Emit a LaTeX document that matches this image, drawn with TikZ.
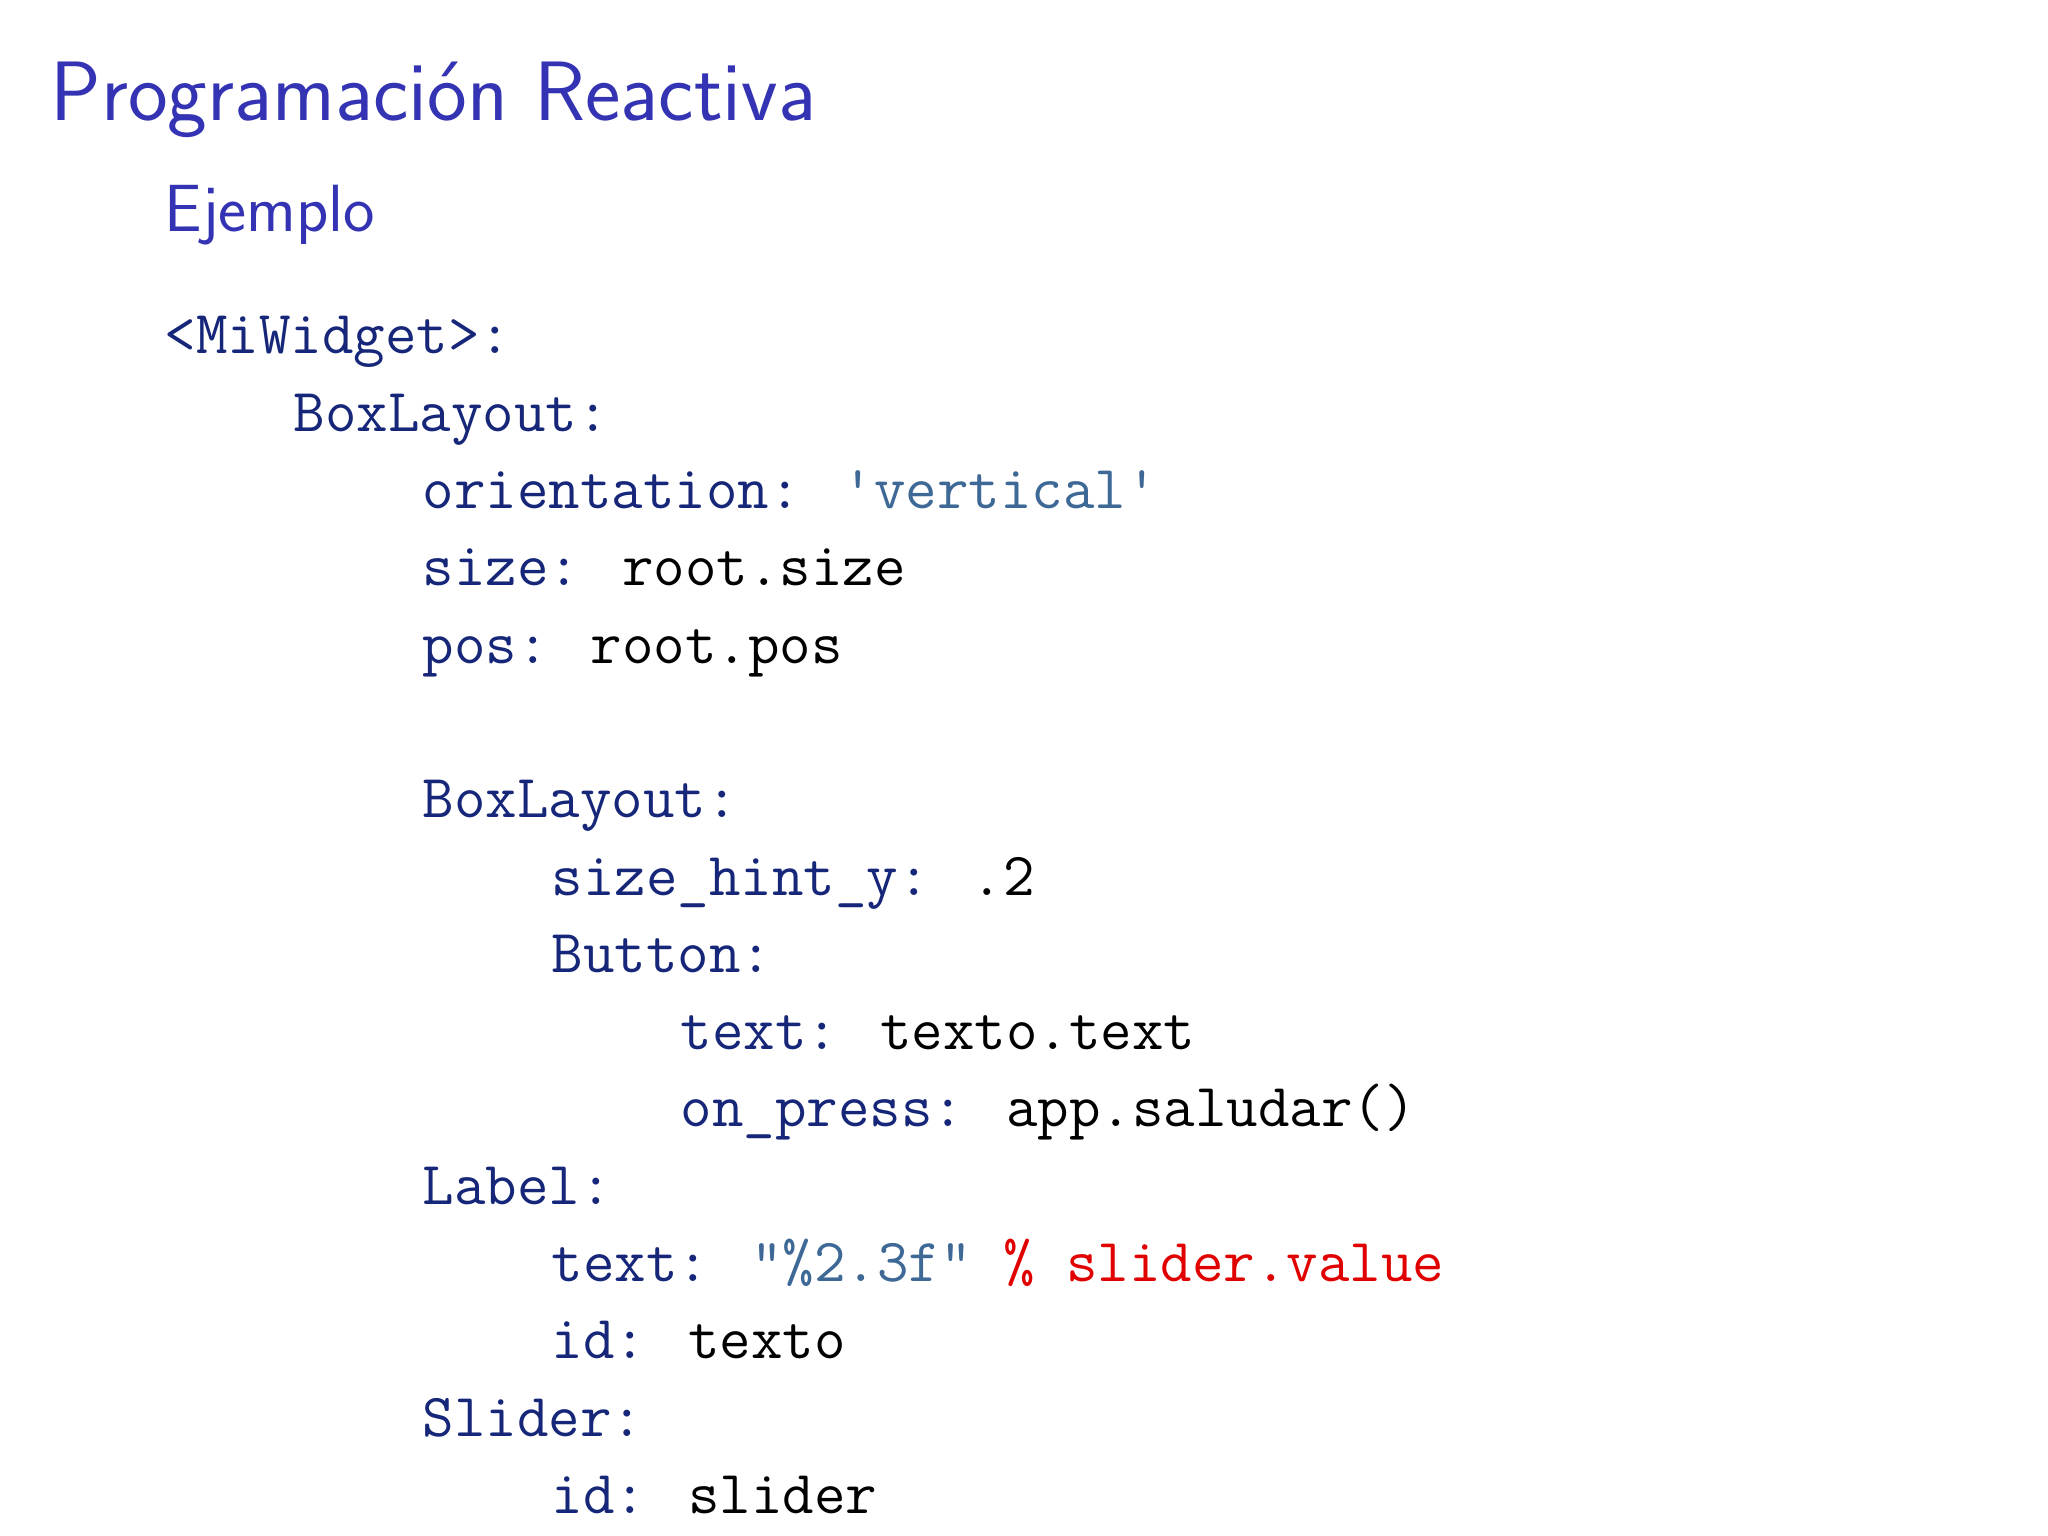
\documentclass[tikz,border=0pt]{standalone}
\usepackage{xcolor}
\definecolor{struct}{RGB}{51,51,179}
\definecolor{keyc}{RGB}{22,38,120}
\definecolor{strc}{RGB}{62,104,150}
\definecolor{redc}{RGB}{225,0,0}
\begin{document}
\begin{tikzpicture}[x=1cm,y=1cm,
  code/.style={anchor=base west,inner sep=0pt,font=\fontsize{17.4}{20}\ttfamily},
  ttl/.style={anchor=base west,inner sep=0pt,text=struct}]
\useasboundingbox[fill=white] (0,0) rectangle (20.48,-15.36);
\node[ttl,font=\fontsize{24}{28}\sffamily] (title) at (0.50,-1.21) {Programación Reactiva};
\node[ttl,font=\fontsize{19}{23}\sffamily] (sub) at (1.64,-2.32) {Ejemplo};
\def\ch{0.3225}
\def\ln#1#2#3{\node[code] (l#1) at ({1.64+#2*\ch},{-3.54-#1*0.773}) {#3};}
\ln{0}{0}{\textcolor{keyc}{<MiWidget>:}}
\ln{1}{4}{\textcolor{keyc}{BoxLayout:}}
\ln{2}{8}{\textcolor{keyc}{orientation:} \textcolor{strc}{'vertical'}}
\ln{3}{8}{\textcolor{keyc}{size:} root.size}
\ln{4}{8}{\textcolor{keyc}{pos:} root.pos}
\ln{6}{8}{\textcolor{keyc}{BoxLayout:}}
\ln{7}{12}{\textcolor{keyc}{size\_hint\_y:} .2}
\ln{8}{12}{\textcolor{keyc}{Button:}}
\ln{9}{16}{\textcolor{keyc}{text:} texto.text}
\ln{10}{16}{\textcolor{keyc}{on\_press:} app.saludar()}
\ln{11}{8}{\textcolor{keyc}{Label:}}
\ln{12}{12}{\textcolor{keyc}{text:} \textcolor{strc}{"\%2.3f"} \textcolor{redc}{\% slider.value}}
\ln{13}{12}{\textcolor{keyc}{id:} texto}
\ln{14}{8}{\textcolor{keyc}{Slider:}}
\ln{15}{12}{\textcolor{keyc}{id:} slider}
\end{tikzpicture}
\end{document}
